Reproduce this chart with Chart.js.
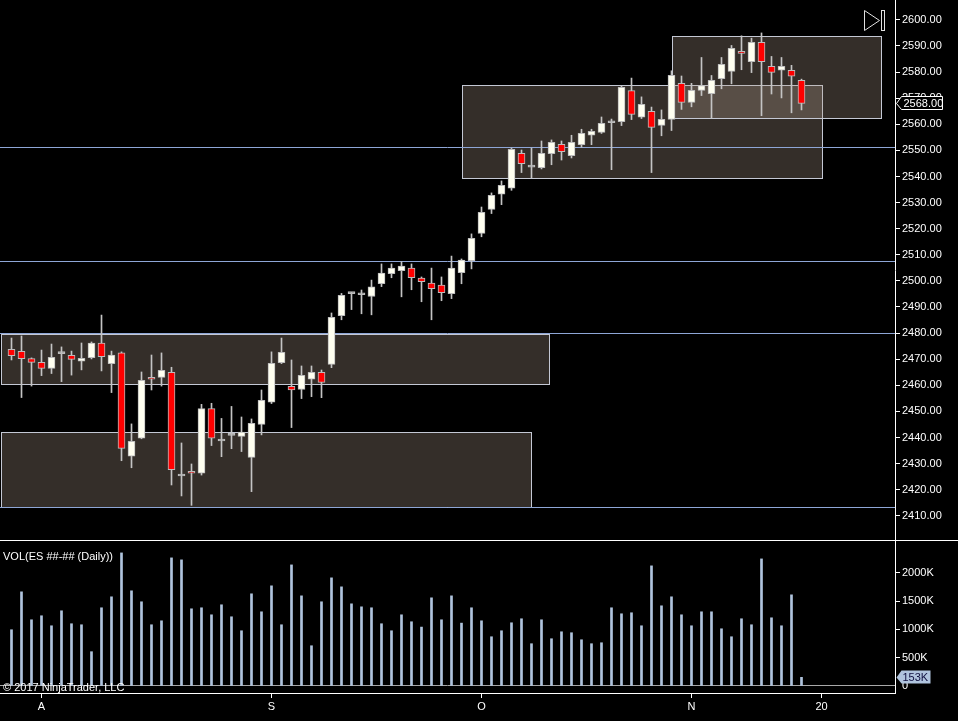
<!DOCTYPE html>
<html><head><meta charset="utf-8">
<script src="https://cdn.jsdelivr.net/npm/chart.js@4.4.0/dist/chart.umd.min.js"></script>
<style>html,body{margin:0;padding:0;background:#000;overflow:hidden}#wrap{width:958px;height:721px}</style>
</head><body><div id="wrap"><canvas id="c" width="958" height="721"></canvas></div>
<script>
// ---- data ----
const opens  = [2473.8,2473.0,2470.2,2468.8,2466.5,2472.1,2471.5,2469.2,2470.6,2476.2,2468.3,2472.4,2432.8,2439.7,2463.05,2463.05,2465.0,2425.25,2427.0,2426.3,2451.05,2438.65,2440.8,2440.45,2432.4,2445.05,2453.5,2468.7,2459.6,2458.45,2462.3,2465.0,2468.0,2486.7,2495.1,2494.7,2494.0,2498.9,2502.8,2503.9,2504.9,2501.1,2499.2,2498.4,2495.1,2503.15,2507.75,2518.2,2527.4,2533.2,2535.5,2548.9,2543.6,2543.4,2548.7,2552.3,2548.0,2552.2,2555.8,2556.9,2560.6,2561.0,2572.9,2562.7,2565.0,2559.6,2561.9,2575.7,2568.4,2573.0,2571.7,2577.5,2580.3,2587.9,2584.0,2591.4,2582.2,2580.7,2580.7,2576.8];
const highs  = [2478.1,2478.9,2470.5,2473.5,2475.8,2474.7,2473.1,2476.2,2476.6,2486.9,2473.1,2472.8,2445.2,2465.1,2471.6,2472.4,2466.9,2437.9,2429.85,2452.7,2453.1,2447.3,2451.9,2447.85,2447.1,2458.2,2472.8,2478.1,2469.7,2467.4,2467.4,2465.85,2487.7,2495.2,2495.6,2496.5,2500.3,2506.5,2506.5,2507.4,2506.5,2501.5,2504.9,2501.5,2509.5,2508.4,2518.0,2528.3,2533.7,2538.3,2550.9,2550.15,2550.9,2553.6,2554.0,2553.6,2555.8,2558.1,2558.1,2562.8,2562.0,2574.7,2577.7,2570.5,2566.6,2565.5,2580.5,2578.5,2575.7,2585.6,2578.7,2585.6,2590.2,2593.9,2593.0,2595.0,2586.0,2585.6,2582.6,2577.3];
const lows   = [2469.7,2455.3,2459.7,2463.7,2464.5,2461.4,2463.9,2465.9,2470.1,2465.5,2457.2,2431.1,2428.4,2439.5,2458.2,2459.7,2421.8,2417.6,2414.0,2425.6,2436.9,2432.65,2435.7,2434.6,2419.25,2441.0,2453.0,2468.3,2443.8,2454.9,2455.65,2455.25,2466.75,2485.1,2489.0,2487.4,2487.0,2497.8,2501.2,2493.9,2496.6,2492.0,2485.1,2492.4,2493.2,2498.9,2504.6,2516.9,2525.8,2529.2,2534.7,2541.5,2539.55,2542.9,2544.5,2546.3,2547.1,2551.2,2552.2,2556.5,2542.6,2559.5,2561.8,2562.2,2541.5,2555.6,2557.6,2565.7,2566.7,2571.0,2562.3,2573.6,2575.5,2580.9,2579.8,2563.3,2571.6,2570.1,2564.4,2565.5];
const closes = [2471.35,2470.2,2468.8,2466.5,2470.7,2472.1,2469.9,2470.3,2476.2,2471.0,2471.6,2435.85,2438.5,2461.9,2462.3,2465.7,2427.7,2425.25,2426.3,2451.05,2439.7,2438.65,2440.8,2442.1,2445.4,2454.25,2468.4,2472.6,2458.2,2463.8,2465.0,2461.1,2486.0,2494.5,2495.1,2494.7,2497.7,2503.0,2504.9,2505.7,2501.2,2499.7,2497.0,2495.5,2504.9,2508.0,2516.3,2526.3,2532.8,2536.6,2550.4,2544.9,2543.6,2548.9,2553.1,2549.5,2553.1,2556.5,2557.3,2560.4,2560.6,2574.2,2563.8,2567.65,2558.8,2561.9,2578.8,2568.4,2573.0,2574.8,2576.8,2583.0,2589.1,2587.2,2591.4,2584.0,2579.9,2582.2,2578.4,2568.0];
const volumesK = [994,1664,1170,1241,1064,1329,1100,1082,606,1382,1576,2352,1682,1488,1082,1152,2264,2229,1364,1382,1258,1435,1223,976,1629,1311,1770,1082,2140,1593,711,1488,1911,1752,1452,1399,1382,1100,976,1258,1135,1041,1558,1170,1593,1111,1382,1152,870,976,1117,1188,747,1170,835,958,941,817,747,764,1382,1276,1294,1064,2123,1417,1576,1258,1064,1311,1311,1011,870,1188,1082,2246,1205,1064,1611,153];
const priceTicks = [2410,2420,2430,2440,2450,2460,2470,2480,2490,2500,2510,2520,2530,2540,2550,2560,2570,2580,2590,2600];
const volTicks = [0,500,1000,1500,2000];
const xTickIndex = [3,26,47,68,81];
const xTickText = ['A','S','O','N','20'];
// supply/demand zones (bar index range, price range)
const zoneStart = [-1.05,-1.05,45,66];
const zoneEnd = [53.7,51.9,81,86.9];
const zoneTop = [2479.7,2442.0,2575.1,2593.8];
const zoneBottom = [2460.5,2413.4,2539.4,2562.4];
const levelLines = [2551.3,2507.6,2480.0,2413.4];
const volLabel = 'VOL(ES ##-## (Daily))';
const copyright = '\u00A9 2017 NinjaTrader, LLC';

// ---- build ----
const FONT = '"Liberation Sans", Arial, sans-serif';
const idx = opens.map((_, i) => i);
const bodyData = idx.map(i => ({x: i, y: [opens[i], closes[i]]}));
const wickData = idx.map(i => ({x: i, y: [lows[i], highs[i]]}));
const volData = idx.map(i => ({x: i, y: volumesK[i]}));
const bodyColors = idx.map(i => closes[i] > opens[i] ? '#fffff0' : (closes[i] < opens[i] ? '#ff0000' : '#bcbcbc'));

const overlay = {
  id: 'overlay',
  beforeDatasetsDraw(chart) {
    const {ctx, chartArea: a, scales: {x, y}} = chart;
    ctx.save();
    ctx.beginPath(); ctx.rect(a.left, y.top, a.right - a.left, y.bottom - y.top); ctx.clip();
    for (let k = 0; k < zoneTop.length; k++) {
      const x0 = Math.round(x.getPixelForValue(zoneStart[k])) + 0.5;
      const x1 = Math.round(x.getPixelForValue(zoneEnd[k])) + 0.5;
      const y0 = Math.round(y.getPixelForValue(zoneTop[k])) + 0.5;
      const y1 = Math.round(y.getPixelForValue(zoneBottom[k])) + 0.5;
      ctx.fillStyle = 'rgba(178,160,140,0.29)';
      ctx.fillRect(x0, y0, x1 - x0, y1 - y0);
      ctx.strokeStyle = '#c4c8d4'; ctx.lineWidth = 1;
      ctx.strokeRect(x0, y0, x1 - x0, y1 - y0);
    }
    ctx.strokeStyle = '#8ea6d6'; ctx.lineWidth = 1;
    levelLines.forEach(p => {
      const py = Math.round(y.getPixelForValue(p)) + 0.5;
      ctx.beginPath(); ctx.moveTo(a.left, py); ctx.lineTo(a.right, py); ctx.stroke();
    });
    ctx.restore();
  },
  afterDraw(chart) {
    const {ctx, chartArea: a, scales: {y, yv}} = chart;
    ctx.save();
    // panel separator
    ctx.strokeStyle = '#ffffff'; ctx.lineWidth = 1;
    const sy = Math.round(y.bottom) + 0.5;
    ctx.beginPath(); ctx.moveTo(0, sy); ctx.lineTo(chart.width, sy); ctx.stroke();
    ctx.font = '11px ' + FONT; ctx.textBaseline = 'middle'; ctx.textAlign = 'left';
    // last price marker
    const lp = closes[closes.length - 1];
    const ly = Math.round(y.getPixelForValue(lp)) + 0.5;
    const ax = Math.round(a.right) + 0.5;
    ctx.beginPath();
    ctx.moveTo(ax + 1, ly); ctx.lineTo(ax + 6, ly - 7); ctx.lineTo(ax + 47, ly - 7);
    ctx.lineTo(ax + 47, ly + 6); ctx.lineTo(ax + 6, ly + 6); ctx.closePath();
    ctx.fillStyle = '#000'; ctx.fill(); ctx.strokeStyle = '#fff'; ctx.stroke();
    ctx.fillStyle = '#fff'; ctx.fillText(lp.toFixed(2), ax + 8, ly);
    // last volume marker
    const lv = volumesK[volumesK.length - 1];
    const vy = Math.round(yv.getPixelForValue(lv)) + 0.5;
    ctx.beginPath();
    ctx.moveTo(ax + 1, vy); ctx.lineTo(ax + 6, vy - 7); ctx.lineTo(ax + 35, vy - 7);
    ctx.lineTo(ax + 35, vy + 6); ctx.lineTo(ax + 6, vy + 6); ctx.closePath();
    ctx.fillStyle = '#b0c4de'; ctx.fill();
    ctx.fillStyle = '#101040'; ctx.fillText(lv + 'K', ax + 7, vy);
    // texts
    ctx.fillStyle = '#ffffff';
    ctx.fillText(volLabel, 3, yv.top + 17);
    ctx.fillText(copyright, 3, yv.getPixelForValue(0) + 2);
    // scroll-to-end icon
    ctx.strokeStyle = '#e0e0e0'; ctx.lineWidth = 1;
    const r = Math.round(a.right);
    ctx.beginPath();
    ctx.moveTo(r - 30.5, 10.5); ctx.lineTo(r - 15.5, 20.5); ctx.lineTo(r - 30.5, 30.5); ctx.closePath(); ctx.stroke();
    ctx.strokeRect(r - 13.5, 10.5, 3, 20);
    ctx.restore();
  }
};

new Chart(document.getElementById('c'), {
  type: 'bar',
  data: {
    datasets: [
      {data: bodyData, yAxisID: 'y', backgroundColor: bodyColors, borderColor: '#bcbcbc', borderWidth: 1,
       borderSkipped: false, barThickness: 7, minBarLength: 2, grouped: false, order: 0},
      {data: wickData, yAxisID: 'y', backgroundColor: '#c4c4c4', borderWidth: 0, barThickness: 1,
       grouped: false, order: 1},
      {data: volData, yAxisID: 'yv', backgroundColor: '#b0c4de', borderWidth: 0, barThickness: 2,
       grouped: false, order: 2}
    ]
  },
  options: {
    responsive: false, animation: false, devicePixelRatio: 1,
    layout: {padding: 0},
    plugins: {legend: {display: false}, tooltip: {enabled: false}},
    scales: {
      x: {
        type: 'linear', position: 'bottom', min: -1.15, max: 88.35, offset: false,
        afterBuildTicks: s => { s.ticks = xTickIndex.map(v => ({value: v})); },
        afterFit: s => { s.height = 28; s.paddingLeft = 0; s.paddingRight = 0; },
        ticks: {callback: v => xTickText[xTickIndex.indexOf(v)] || '', color: '#fff', font: {family: FONT, size: 11},
                padding: 2, maxRotation: 0, autoSkip: false},
        grid: {offset: false, drawOnChartArea: false, drawTicks: true, tickLength: 5, tickColor: '#fff'},
        border: {color: '#fff', width: 1}
      },
      y: {
        type: 'linear', position: 'right', stack: 'panes', stackWeight: 540,
        min: 2400.72, max: 2607.62,
        afterBuildTicks: s => { s.ticks = priceTicks.map(v => ({value: v})); },
        afterFit: s => { s.width = 63; s.paddingTop = 0; s.paddingBottom = 0; },
        ticks: {callback: v => v.toFixed(2), color: '#fff', font: {family: FONT, size: 11}, padding: 2, autoSkip: false},
        grid: {drawOnChartArea: false, drawTicks: true, tickLength: 5, tickColor: '#fff'},
        border: {color: '#fff', width: 1}
      },
      yv: {
        type: 'linear', position: 'right', stack: 'panes', stackWeight: 153,
        min: -124, max: 2580,
        afterBuildTicks: s => { s.ticks = volTicks.map(v => ({value: v})); },
        afterFit: s => { s.width = 63; s.paddingTop = 0; s.paddingBottom = 0; },
        ticks: {callback: v => v === 0 ? '0' : v + 'K', color: '#fff', font: {family: FONT, size: 11}, padding: 2, autoSkip: false},
        grid: {drawOnChartArea: true, drawTicks: true, tickLength: 5,
               color: c => (c.tick && c.tick.value === 0) ? '#a8a8a8' : 'rgba(0,0,0,0)',
               tickColor: c => (c.tick && c.tick.value === 0) ? 'rgba(0,0,0,0)' : '#fff'},
        border: {color: '#fff', width: 1}
      }
    }
  },
  plugins: [overlay]
});
</script></body></html>
